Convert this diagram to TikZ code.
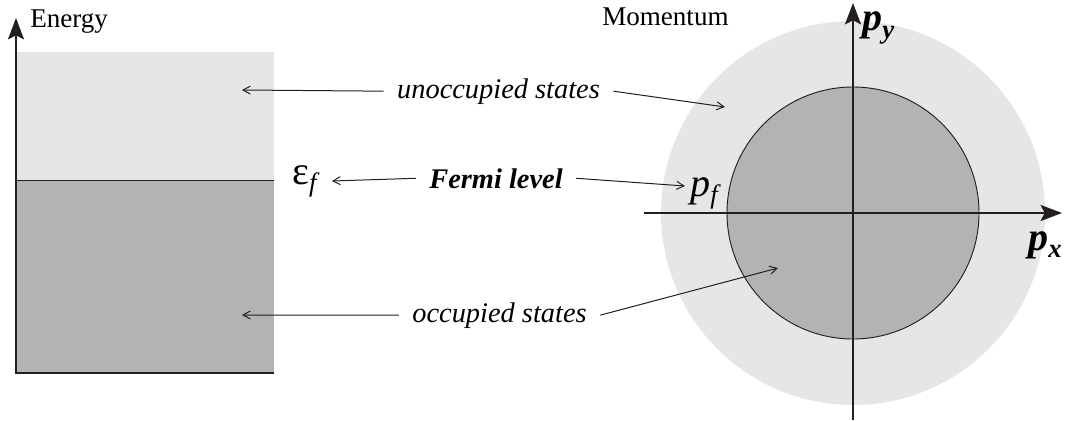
\documentclass[tikz,border=0pt]{standalone}
\usepackage{fontspec}
\setmainfont{Liberation Serif}
\usetikzlibrary{arrows.meta}
\definecolor{lightgr}{HTML}{E6E6E6}
\definecolor{darkgr}{HTML}{B3B3B3}
\definecolor{ink}{HTML}{231F20}
\newcommand{\subsc}[1]{\raisebox{-0.4ex}{\fontsize{20}{20}\selectfont #1}}

\begin{document}
\begin{tikzpicture}[
    x=0.75pt, y=-0.75pt,
    axis/.style={ink, line width=1.5pt, -{Stealth[length=16pt, width=12pt, inset=3pt]}},
    ptr/.style={ink, line width=0.75pt, -{Straight Barb[length=5.5pt, width=6pt]}},
    note/.style={font=\fontsize{21.3}{24}\selectfont\itshape, inner xsep=10pt, inner ysep=0pt},
    fermi/.style={note, font=\fontsize{21.3}{24}\selectfont\bfseries\itshape},
    sym/.style={font=\fontsize{30}{32}\selectfont, inner sep=0pt},
    title/.style={font=\fontsize{20.3}{22}\selectfont, inner sep=0pt},
  ]
    \useasboundingbox (0,0) rectangle (1067,421);
    % energy levels
    \fill[lightgr] (17,52) rectangle (274,180);
    \fill[darkgr] (17,180) rectangle (274,373);
    \draw[ink, line width=0.7pt] (17,180) -- (274,180);
    \draw[axis] (274,373) -- (16,373) -- (16,18);
    \node[title, anchor=base west] (energy) at (30,27) {Energy};
    % momentum space
    \fill[lightgr] (853,213) circle[radius=192];
    \draw[ink, line width=0.7pt, fill=darkgr] (853,213) circle[radius=126];
    \draw[axis] (644,213) -- (1062,213);
    \draw[axis] (853,420) -- (853,3);
    \node[title, anchor=base west] (momentum) at (602,25) {Momentum};
    \node[sym, anchor=base west, font=\fontsize{30}{32}\selectfont\bfseries\itshape]
      (py) at (862,31) {p\subsc{y}};
    \node[sym, anchor=base west, font=\fontsize{30}{32}\selectfont\bfseries\itshape]
      (px) at (1028,250) {p\subsc{x}};
    \node[sym, anchor=base west, font=\fontsize{30}{32}\selectfont\itshape]
      (pf) at (690,196) {p\subsc{f}};
    \node[sym, anchor=base west] (eps) at (292,184) {ε\subsc{\itshape f}};
    % labels
    \node[note, anchor=base] (unocc) at (498.5,98) {unoccupied states};
    \node[fermi, anchor=base] (fermi) at (496,188) {Fermi level};
    \node[note, anchor=base] (occ) at (499.5,322) {occupied states};
    \coordinate (uL) at (242,90);
    \coordinate (uR) at (725,107);
    \coordinate (fL) at (332,181);
    \coordinate (fR) at (685,186);
    \coordinate (oL) at (242,315);
    \coordinate (oR) at (778,268);
    \draw[ptr] (unocc.west) -- (uL);
    \draw[ptr] (unocc.east) -- (uR);
    \draw[ptr] (fermi.west) -- (fL);
    \draw[ptr] (fermi.east) -- (fR);
    \draw[ptr] (occ.west) -- (oL);
    \draw[ptr] (occ.east) -- (oR);
  \end{tikzpicture}
\end{document}
